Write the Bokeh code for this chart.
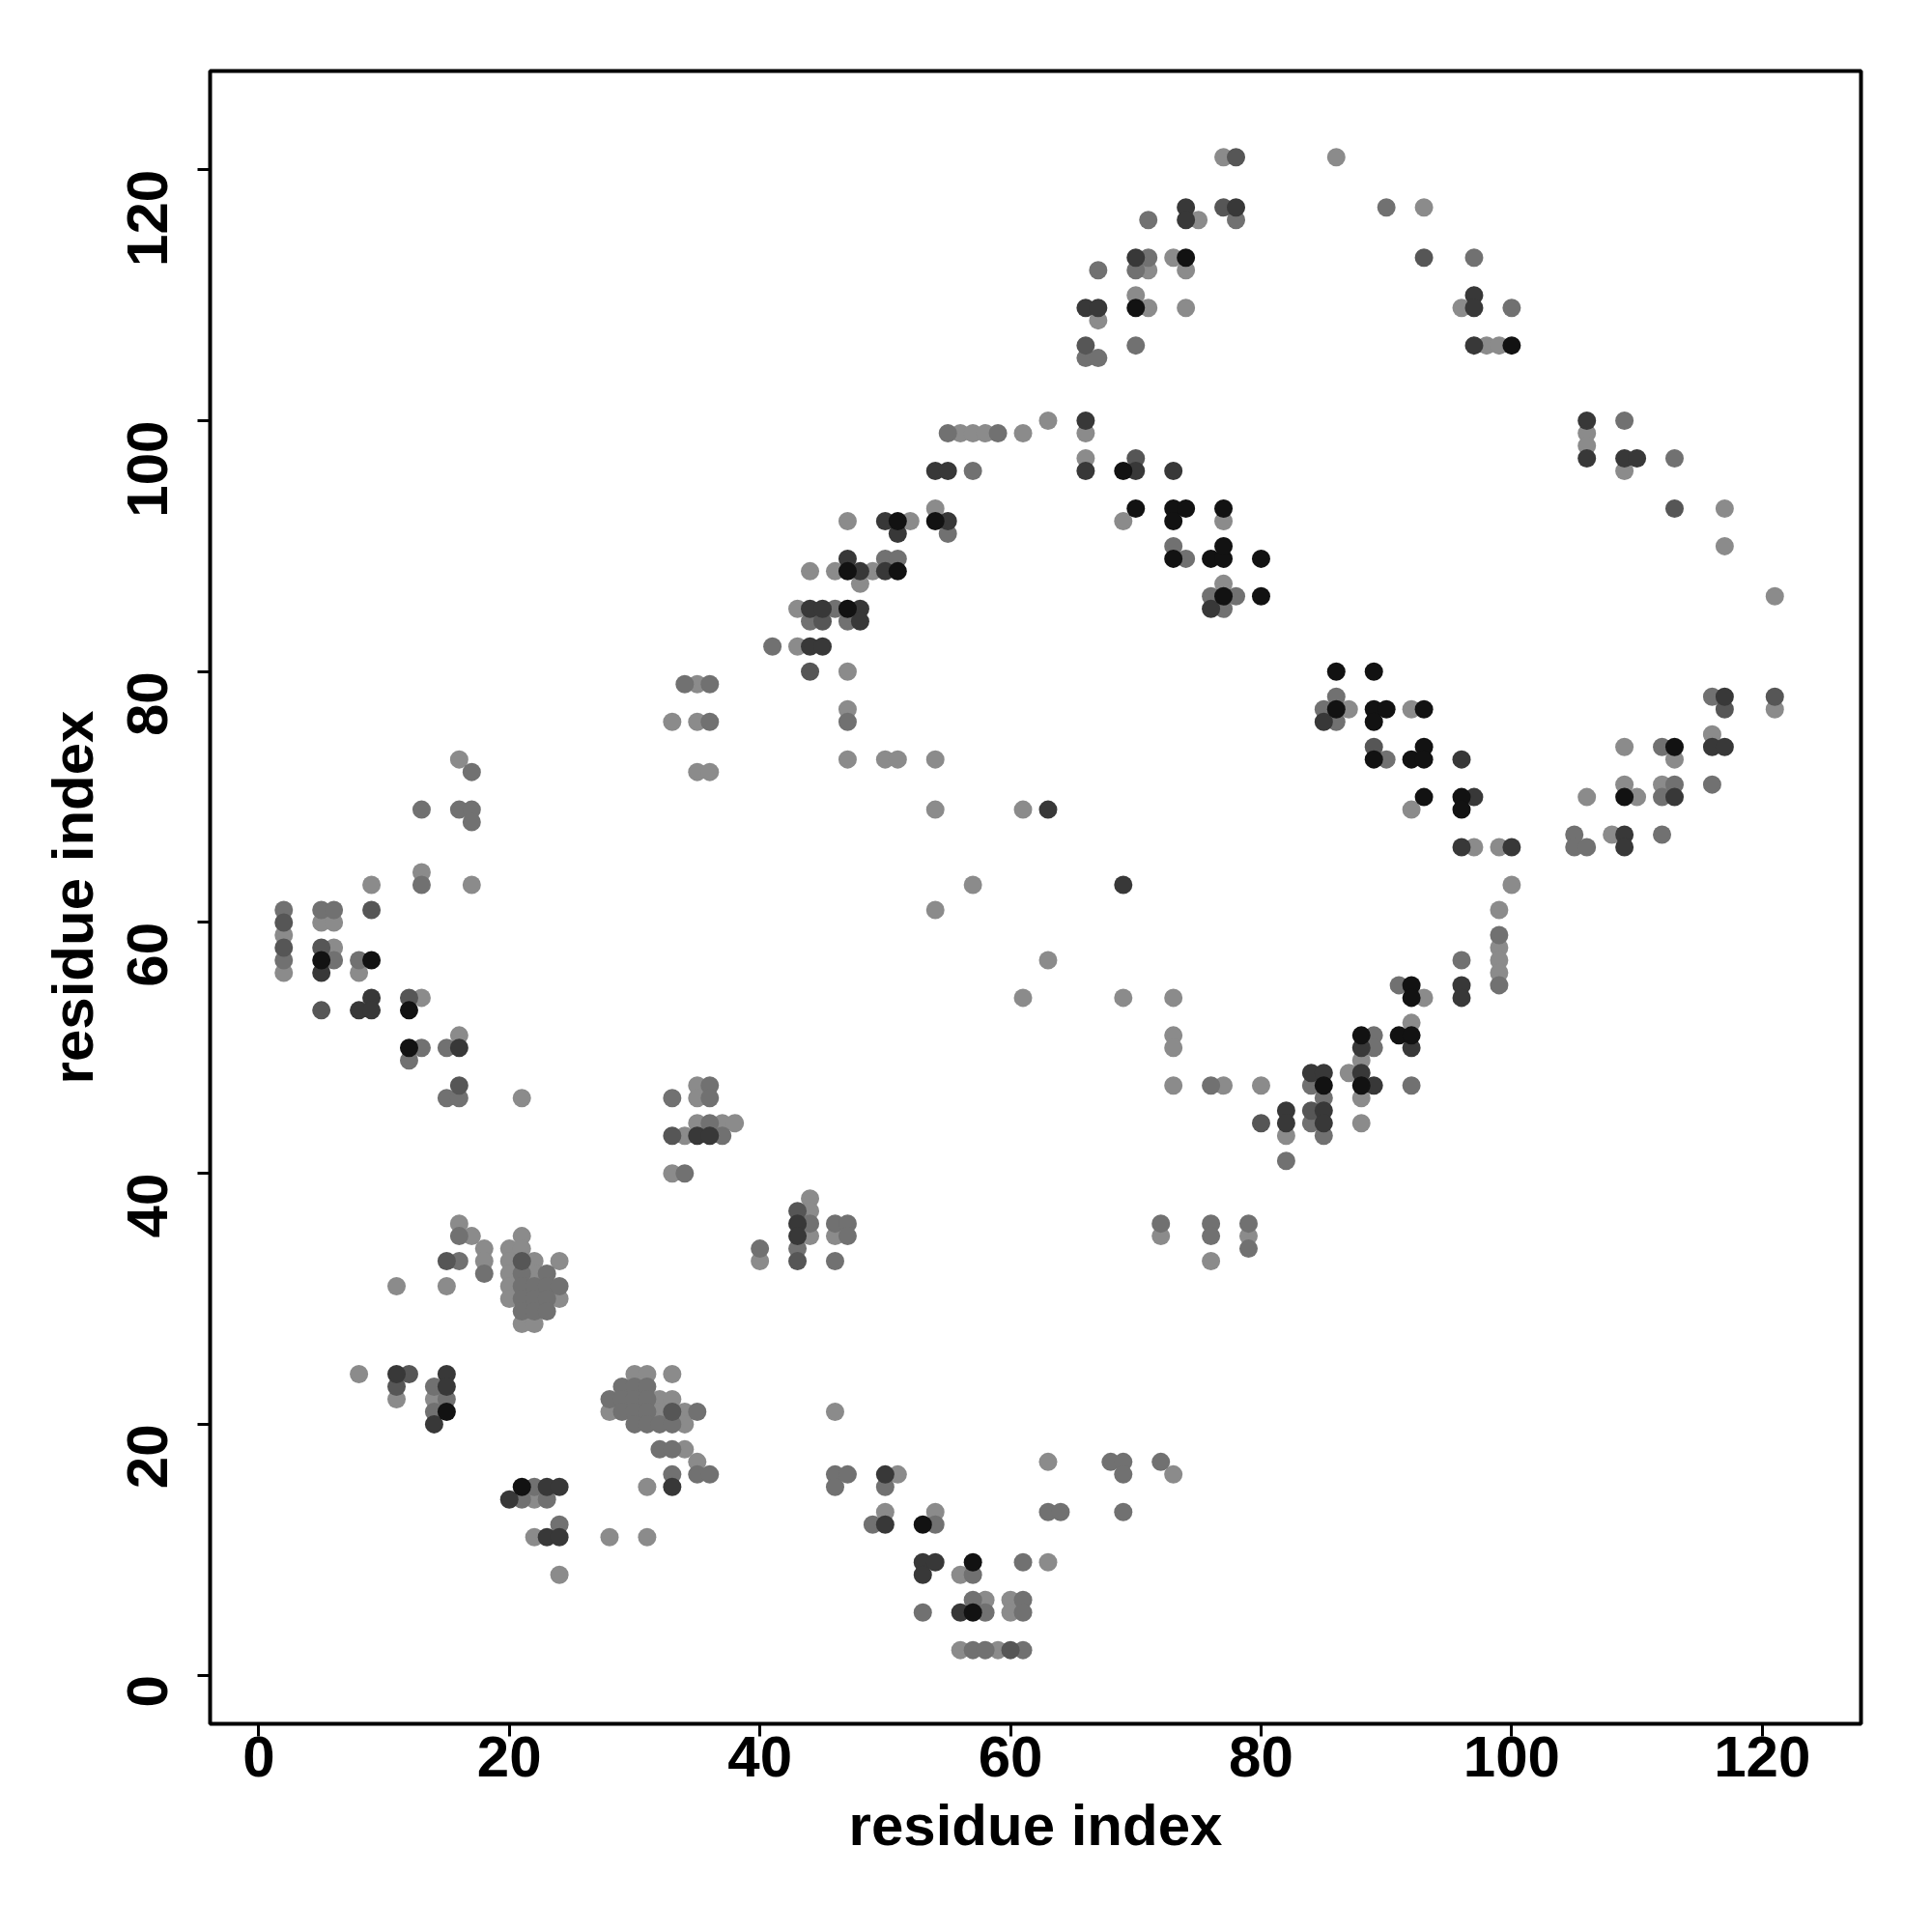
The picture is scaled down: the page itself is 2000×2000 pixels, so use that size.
import math
from bokeh.plotting import figure
from bokeh.models import FixedTicker, Range1d
from bokeh.embed import file_html
from bokeh.resources import INLINE

# residue contacts grouped by grey level (lightest -> darkest)
light_x = [77,86,75,71,73,74,67,70,71,74,56,57,58,61,63,66,66,47,52,54,69,77,
           44,46,49,48,77,43,43,47,47,47,50,51,54,54,61,57,54,63,
           93,96,98,99,106,106,109,117,117,
           121,87,92,92,97,99,100,99,99,99,109,113,121,116,109,112,106,110,108,
           99,93,92,88,87,88,88,82,
           61,69,73,73,73,73,77,80,44,44,44,46,72,76,79,
           35,33,35,35,36,16,13,9,17,5,6,2,6,
           2,8,13,16,21,35,35,35,37,38,34,33,
           16,17,18,20,21,21,18,20,22,24,20,22,11,15,20,20,24,21,22,40,
           8,11,14,30,31,33,32,33,28,32,34,34,34,35,31,22,22,28,31,24,
           46,51,50,54,63,56,58,60,60,56,59,63,73]
light_y = [121,121,116,112,113,112,108,110,109,109,99,99,99,99,100,99,97,92,92,93,92,92,
           88,88,88,87,87,85,82,80,77,73,73,73,73,69,69,63,61,57,
           117,109,106,106,99,98,96,93,90,
           86,77,77,69,66,66,63,61,58,57,74,73,77,75,71,71,70,70,67,
           56,54,52,49,48,46,44,43,
           54,54,54,51,50,47,47,47,38,37,35,35,35,33,35,
           79,76,76,72,72,73,64,63,63,60,60,59,58,
           56,56,54,51,46,47,46,44,44,44,43,40,
           36,35,34,34,35,34,33,33,33,33,32,32,31,31,31,30,30,28,28,33,
           24,22,22,24,24,24,22,22,21,21,21,20,18,17,15,14,11,11,11,8,
           21,16,13,13,9,8,6,6,5,2,2,17,16]

medium_x = [71,78,71,70,67,66,67,70,55,59,57,55,50,51,73,74,
            76,78,46,77,44,47,41,47,
            90,97,100,109,113,
            86,85,86,90,99,96,112,116,116,113,112,105,112,105,106,
            99,91,89,89,92,84,85,84,85,82,
            76,44,46,47,47,43,46,72,76,76,79,79,
            34,36,36,17,13,16,17,17,13,2,5,6,2,6,8,
            13,15,12,15,16,36,33,36,36,37,34,
            16,16,18,21,23,21,22,23,24,21,22,23,21,22,23,40,
            14,15,14,29,30,31,28,29,30,31,29,30,31,35,30,31,32,33,32,33,33,35,36,
            22,21,23,24,
            46,47,46,50,49,54,61,57,57,61,53,58,61,57,58,61,68,69,69,72,63,64,69]
medium_y = [116,116,113,112,112,105,105,106,99,99,96,91,89,89,90,89,
            86,86,85,85,84,84,82,76,
            117,113,109,100,97,
            78,77,76,73,59,57,74,78,71,71,70,67,67,66,66,
            55,55,51,50,47,47,46,44,43,41,
            47,36,36,36,35,34,33,36,36,35,36,34,
            79,79,76,72,69,69,69,68,63,61,61,61,57,57,57,
            50,50,49,46,46,47,46,46,44,43,40,
            35,33,32,32,32,31,31,31,31,30,30,30,29,29,29,34,
            23,22,21,23,23,23,22,22,22,22,21,21,21,21,20,20,20,20,18,18,16,16,16,
            15,14,14,12,
            16,16,15,15,12,12,9,8,6,6,5,5,5,2,2,2,17,17,16,17,13,13,13]

dim_x = [78,77,66,70,45,44,93,113,117,121,89,84,80,43,43,9,2,2,5,12,5,16,33,15,21,12,11,33,60]
dim_y = [121,117,106,97,84,80,113,93,77,78,74,45,44,37,33,61,60,58,58,54,53,47,43,33,33,24,23,21,2]

dark_x = [74,74,78,70,66,67,66,66,54,55,70,73,50,55,51,47,
          48,50,44,45,48,76,48,44,45,63,69,
          97,97,97,106,106,109,110,
          85,96,97,96,100,117,116,117,113,109,109,
          96,96,92,88,88,89,84,85,85,85,82,82,
          43,43,5,9,8,9,16,35,36,
          11,15,15,14,33,23,24,20,23,24,
          50,50,53,54,53,56]
dark_y = [117,116,117,113,109,109,100,96,96,96,96,96,92,92,91,89,
          88,88,85,85,85,85,84,82,82,69,63,
          110,109,106,100,97,97,97,
          76,73,70,66,66,78,74,74,70,67,66,
          55,54,50,50,48,47,48,48,45,44,45,44,
          36,35,56,54,53,53,50,43,43,
          24,24,23,20,15,15,15,14,11,11,
          16,12,9,9,8,5]

black_x = [74,70,69,51,54,70,73,74,73,77,73,76,77,77,80,
           47,51,77,80,47,86,
           100,89,86,89,90,89,93,93,89,92,93,93,96,96,113,109,
           92,92,91,92,88,88,85,
           5,9,12,12,15,21,53,57,57]
black_y = [113,109,96,92,92,93,93,93,92,93,89,89,89,90,89,
           88,88,86,86,85,80,
           106,80,77,77,77,76,77,74,73,73,73,70,70,69,74,70,
           55,54,51,51,51,47,47,
           57,57,53,50,21,15,12,9,5]

groups = [
    (light_x, light_y, "#8b8b8b"),
    (medium_x, medium_y, "#717171"),
    (dim_x, dim_y, "#565656"),
    (dark_x, dark_y, "#383838"),
    (black_x, black_y, "#121212"),
]

tick_values = [0, 20, 40, 60, 80, 100, 120]
axis_title = "residue index"

p = figure(width=1984, height=1984, output_backend="svg", toolbar_location=None,
           x_range=Range1d(-3.88, 127.88), y_range=Range1d(-3.88, 127.88),
           min_border_left=217, min_border_right=58, min_border_top=73, min_border_bottom=200)
p.background_fill_color = "white"
p.border_fill_color = "white"
p.grid.visible = False
p.outline_line_color = "black"
p.outline_line_width = 4
p.outline_line_alpha = 1.0

for gx, gy, col in groups:
    p.scatter(gx, gy, marker="circle", size=19, fill_color=col, line_color=None)

for ax in (p.xaxis[0], p.yaxis[0]):
    ax.ticker = FixedTicker(ticks=tick_values)
    ax.axis_label = axis_title
    ax.axis_line_color = None
    ax.major_tick_in = 0
    ax.major_tick_out = 13
    ax.major_tick_line_width = 3
    ax.major_tick_line_color = "black"
    ax.minor_tick_line_color = None
    ax.major_label_text_font = "Liberation Sans"
    ax.major_label_text_font_style = "bold"
    ax.major_label_text_font_size = "60px"
    ax.major_label_text_color = "black"
    ax.axis_label_text_font = "Liberation Sans"
    ax.axis_label_text_font_style = "bold"
    ax.axis_label_text_font_size = "60px"
    ax.axis_label_text_color = "black"

p.xaxis[0].major_label_standoff = 0
p.xaxis[0].axis_label_standoff = 14
p.yaxis[0].major_label_orientation = math.pi / 2
p.yaxis[0].major_label_standoff = 52
p.yaxis[0].axis_label_standoff = 0

open("out.html", "w").write(file_html(p, INLINE))
